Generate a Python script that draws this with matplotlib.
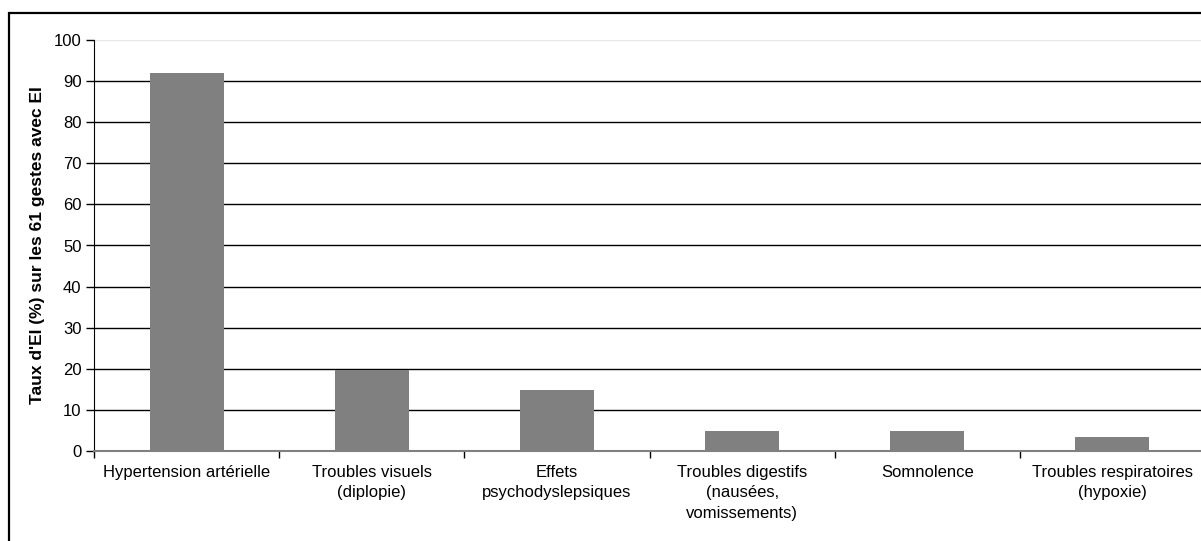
import matplotlib.pyplot as plt
from matplotlib.patches import Rectangle
import numpy as np

plt.rcParams['font.family'] = ['Liberation Sans', 'DejaVu Sans']

# Data
categories = ["Hypertension artérielle", "Troubles visuels\n(diplopie)",
              "Effets\npsychodyslepsiques", "Troubles digestifs\n(nausées,\nvomissements)",
              "Somnolence", "Troubles respiratoires\n(hypoxie)"]
taux = [92.0, 19.7, 14.8, 4.9, 4.9, 3.3]
yticks = list(range(0, 101, 10))

W, H = 1201, 541
fig = plt.figure(figsize=(W / 100, H / 100), dpi=100)

# outer frame of the chart
fig.patches.append(Rectangle((9 / W, -0.1), 1.2, 1 - 13 / H + 0.1, transform=fig.transFigure,
                             fill=False, edgecolor='black', linewidth=1.6, zorder=0))

ax = fig.add_axes([94 / W, 1 - 451 / H, (1205 - 94) / W, 411 / H])
x = np.arange(len(categories))
ax.bar(x, taux, width=0.4, color='#808080', zorder=3)

ax.set_xlim(-0.5, len(categories) - 0.5)
ax.set_ylim(0, 100)
ax.set_yticks(yticks)
ax.tick_params(axis='y', direction='out', length=6, width=1, labelsize=12, pad=3)

# gridlines
for v in yticks[1:]:
    ax.axhline(v, color='#e8e8e8' if v == 100 else 'black', linewidth=1, zorder=1)

# x ticks at category boundaries, labels centered
ax.set_xticks(np.arange(len(categories) + 1) - 0.5)
ax.set_xticklabels([])
ax.set_xticks(x, minor=True)
ax.set_xticklabels(categories, minor=True, fontsize=12, linespacing=1.45, va='top')
ax.tick_params(axis='x', which='major', direction='out', length=5, width=1, color='black')
ax.tick_params(axis='x', which='minor', length=0, pad=10)

for s in ['top', 'right']:
    ax.spines[s].set_visible(False)
ax.spines['left'].set_color('black')
ax.spines['bottom'].set_color('#808080')
ax.spines['bottom'].set_linewidth(1.5)
ax.spines['bottom'].set_zorder(4)

ax.set_ylabel("Taux d'EI (%) sur les 61 gestes avec EI", fontsize=12.5, fontweight='bold')
ax.yaxis.set_label_coords((38 - 94) / 1111, 0.5)
ax.yaxis.label.set_va('center')

fig.savefig('out.png', dpi=100)
